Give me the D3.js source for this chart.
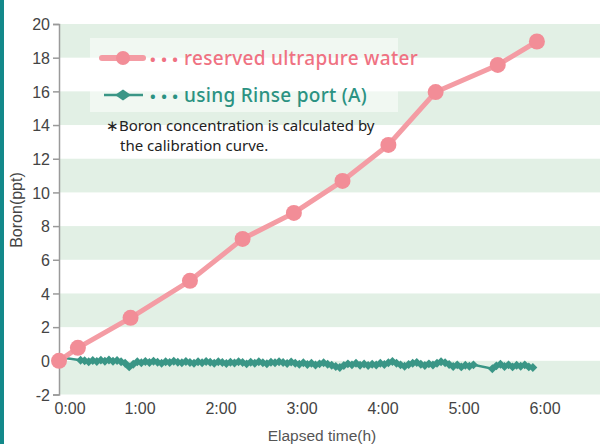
<!DOCTYPE html>
<html><head><meta charset="utf-8">
<script src="https://cdn.jsdelivr.net/npm/d3@7"></script>
<style>body{margin:0;background:#fff}svg{display:block}</style>
</head><body><svg id="c" width="600" height="444"></svg>
<script>
// ---- data ----
const xTickHours = [0,1,2,3,4,5,6];
const xTickLabels = ["0:00","1:00","2:00","3:00","4:00","5:00","6:00"];
const yTicks = [-2,0,2,4,6,8,10,12,14,16,18,20];
const bandRanges = [[-2,0],[2,4],[6,8],[10,12],[14,16],[18,20]];
const seriesNames = ["reserved ultrapure water","using Rinse port (A)"];
// reserved ultrapure water (minutes, ppt)
const pinkMin = [0,14,53,97,136,174,210,244,279,325,354];
const pinkVal = [0,0.77,2.55,4.75,7.24,8.78,10.68,12.82,15.96,17.57,18.96];
// using Rinse port (A) (minutes, ppt)
const greenMin = [3,16,19,22,25,28,31,34,37,40,43,46,49,52,55,58,61,64,67,70,73,76,79,82,85,88,91,94,97,100,103,106,109,112,115,118,121,124,127,130,133,136,139,142,145,148,151,154,157,160,163,166,169,172,175,178,181,184,187,190,193,196,199,202,205,208,211,214,217,220,223,226,229,232,235,238,241,244,247,250,253,256,259,262,265,268,271,274,277,280,283,286,289,292,295,298,301,304,307,321,324,327,330,333,336,339,342,345,348,351];
const greenVal = [0.18,0.03,0.0,-0.05,0.02,-0.04,0.04,-0.02,0.05,-0.03,0.02,-0.06,-0.15,-0.36,-0.2,-0.06,-0.12,-0.04,-0.1,-0.02,-0.08,-0.14,-0.05,-0.1,-0.02,-0.08,-0.12,-0.04,-0.1,-0.15,-0.06,-0.12,-0.04,-0.09,-0.14,-0.06,-0.1,-0.16,-0.08,-0.13,-0.05,-0.1,-0.18,-0.09,-0.14,-0.06,-0.11,-0.17,-0.08,-0.12,-0.05,-0.1,-0.16,-0.07,-0.14,-0.2,-0.12,-0.22,-0.15,-0.25,-0.18,-0.12,-0.2,-0.26,-0.34,-0.4,-0.28,-0.18,-0.24,-0.15,-0.26,-0.19,-0.28,-0.2,-0.25,-0.14,-0.22,-0.12,-0.04,-0.15,-0.24,-0.32,-0.22,-0.14,-0.1,-0.2,-0.28,-0.18,-0.25,-0.14,-0.05,-0.12,-0.22,-0.34,-0.24,-0.36,-0.26,-0.32,-0.24,-0.47,-0.3,-0.2,-0.34,-0.24,-0.36,-0.26,-0.32,-0.24,-0.36,-0.4];

const pinkLine = "#f49ca4", pinkDot = "#f28d97", pinkText = "#ef7282";
const teal = "#3a9686", tealText = "#2b9282";

const svg = d3.select("#c");
const x = d3.scaleLinear().domain([0,6]).range([59,545]);
const y = d3.scaleLinear().domain([-2,20]).range([394.5,24]);

// left accent bar
svg.append("rect").attr("x",0).attr("y",0).attr("width",4).attr("height",444).attr("fill","#13898a");

// bands
svg.append("g").selectAll("rect").data(bandRanges).join("rect")
  .attr("x",x(0)).attr("width",600-x(0))
  .attr("y",d=>y(d[1])).attr("height",d=>y(d[0])-y(d[1]))
  .attr("fill","#e2f0e5");

// y axis
const yAxis = svg.append("g").attr("transform",`translate(${x(0)},0)`)
  .call(d3.axisLeft(y).tickValues(yTicks).tickSize(6).tickPadding(3).tickFormat(d=>String(d)));
yAxis.select(".domain").attr("stroke","#9a9a9a").attr("stroke-width",1.5);
yAxis.selectAll(".tick line").attr("stroke","#9a9a9a").attr("stroke-width",1.5);
yAxis.selectAll("text").attr("font-family","'Liberation Sans',Arial,sans-serif").attr("font-size",16).attr("fill","#444").attr("dy","0.36em");

// x tick labels
svg.append("g").selectAll("text").data(xTickHours).join("text")
  .attr("x",(d,i)=>x(d)+(i===0?11:0)).attr("y",414)
  .attr("text-anchor","middle")
  .attr("font-family","'Liberation Sans',Arial,sans-serif").attr("font-size",16).attr("fill","#444")
  .text((d,i)=>xTickLabels[i]);

// axis titles
svg.append("text").attr("x",322).attr("y",441).attr("text-anchor","middle")
  .attr("font-family","'Liberation Sans',Arial,sans-serif").attr("font-size",15.5).attr("fill","#555")
  .text("Elapsed time(h)");
svg.append("text").attr("transform","translate(22,210) rotate(-90)").attr("text-anchor","middle")
  .attr("font-family","'Liberation Sans',Arial,sans-serif").attr("font-size",16).attr("fill","#444")
  .text("Boron(ppt)");

// legend box
svg.append("rect").attr("x",90).attr("y",38).attr("width",308).attr("height",74).attr("fill","#fff").attr("fill-opacity",0.5);

// green series
const gData = greenMin.map((m,i)=>[m/60,greenVal[i]]);
svg.append("path").datum(gData)
  .attr("d",d3.line().x(d=>x(d[0])).y(d=>y(d[1])))
  .attr("fill","none").attr("stroke",teal).attr("stroke-width",2.5);
const diamond = d3.symbol().type(d3.symbolSquare).size(40);
svg.append("g").selectAll("path").data(gData.slice(1)).join("path")
  .attr("d",diamond).attr("transform",d=>`translate(${x(d[0])},${y(d[1])}) rotate(45)`)
  .attr("fill",teal);

// pink series
const pData = pinkMin.map((m,i)=>[m/60,pinkVal[i]]);
svg.append("path").datum(pData)
  .attr("d",d3.line().x(d=>x(d[0])).y(d=>y(d[1])))
  .attr("fill","none").attr("stroke",pinkLine).attr("stroke-width",5);
svg.append("g").selectAll("circle").data(pData).join("circle")
  .attr("cx",d=>x(d[0])).attr("cy",d=>y(d[1])).attr("r",8).attr("fill",pinkDot);

// legend
const lf = "'Noto Sans','Open Sans',sans-serif";
svg.append("line").attr("x1",102).attr("x2",143).attr("y1",58).attr("y2",58).attr("stroke",pinkLine).attr("stroke-width",6).attr("stroke-linecap","round");
svg.append("circle").attr("cx",123).attr("cy",58).attr("r",7).attr("fill",pinkDot);
svg.append("line").attr("x1",104).attr("x2",143).attr("y1",95).attr("y2",95).attr("stroke",teal).attr("stroke-width",2.5);
svg.append("path").attr("d","M115,95 L123,89.5 L131,95 L123,100.5 Z").attr("fill",teal);

const dotsText = (yy,col,name)=>{
  const t = svg.append("text").attr("y",yy).attr("font-family",lf).attr("font-weight",700).attr("fill",col);
  t.append("tspan").attr("x",150).attr("font-size",15).attr("letter-spacing",5.5).text("•••");
  t.append("tspan").attr("x",184).attr("font-size",19).attr("font-weight",500).attr("letter-spacing",0.3).text(name);
};
dotsText(65,pinkText,seriesNames[0]);
dotsText(102,tealText,seriesNames[1]);

// note
svg.append("text").attr("x",106).attr("y",131).attr("font-family",lf).attr("font-size",15).attr("fill","#222")
  .text("\u2217Boron concentration is calculated by");
svg.append("text").attr("x",120).attr("y",151).attr("font-family",lf).attr("font-size",15).attr("fill","#222")
  .text("the calibration curve.");
</script></body></html>
